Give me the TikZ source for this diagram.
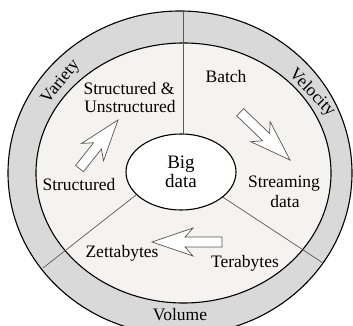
\documentclass[tikz,border=0pt]{standalone}
\usepackage{fontspec}
\setmainfont{Liberation Serif}
\usetikzlibrary{shapes.geometric}
\definecolor{bandgray}{HTML}{D9D9D9}
\definecolor{innerfill}{HTML}{F4F3EF}
\definecolor{divgray}{HTML}{5A5A5A}
\definecolor{arrgray}{HTML}{555555}
\tikzset{
  ring/.style={draw=black, line width=1.1pt},
  divider/.style={draw=divgray, line width=0.7pt},
  lbl/.style={font=\fontsize{17.5}{18}\selectfont, inner sep=0pt, anchor=base},
  sidelbl/.style={font=\fontsize{17.5}{18}\selectfont, inner sep=0pt},
  arrowline/.style={draw=arrgray, fill=white, line width=0.7pt, line join=miter},
  pics/blockarrow/.style={code={
    \path[arrowline] (0pt,0pt) -- (-41pt,14pt) -- (-33pt,5pt) -- (-#1,5pt)
      -- (-#1,-5pt) -- (-33pt,-5pt) -- (-41pt,-14pt) -- cycle;
  }}
}
\begin{document}
\begin{tikzpicture}[x=1pt,y=-1pt]
\useasboundingbox (0,0) rectangle (353,326);
\begin{scope}
\clip (0,0) rectangle (353,326);
\draw[ring, fill=bandgray] (180,173) ellipse [x radius=172, y radius=162];
\draw[ring, fill=innerfill] (183.5,173) ellipse [x radius=147.5, y radius=130];
\coordinate (vtop) at (183,11);
\coordinate (vbot) at (183,150);
\coordinate (llo) at (43,268);
\coordinate (lli) at (150,184);
\coordinate (lro) at (323,263);
\coordinate (lri) at (212,190);
\draw[divider] (vbot) -- (vtop);
\draw[divider] (lli) -- (llo);
\draw[divider] (lri) -- (lro);
\end{scope}
\node[ellipse, draw=black, line width=1.1pt, fill=white, minimum width=110pt,
  minimum height=76pt, inner sep=0pt, align=center,
  font=\fontsize{19}{18.5}\selectfont] (big) at (181,172) {Big\\data};

\pic[rotate=51.6] at (118,120) {blockarrow=62pt};
\pic[rotate=-43.8] at (290,160) {blockarrow=69pt};
\pic[rotate=180] at (152,242) {blockarrow=70pt};

\node[lbl] (su1) at (129,95) {Structured \&};
\node[lbl] (su2) at (130,113) {Unstructured};
\node[lbl] (batch) at (226,83) {Batch};
\node[lbl] (str) at (79,190) {Structured};
\node[lbl] (stream1) at (284,187) {Streaming};
\node[lbl] (stream2) at (285,207) {data};
\node[lbl] (zetta) at (122,257) {Zettabytes};
\node[lbl] (tera) at (245,267) {Terabytes};
\node[lbl] (vol) at (180,320) {Volume};
\node[sidelbl, rotate=51] (variety) at (61,82) {Variety};
\node[sidelbl, rotate=-46] (velocity) at (312,93) {Velocity};
\end{tikzpicture}
\end{document}
